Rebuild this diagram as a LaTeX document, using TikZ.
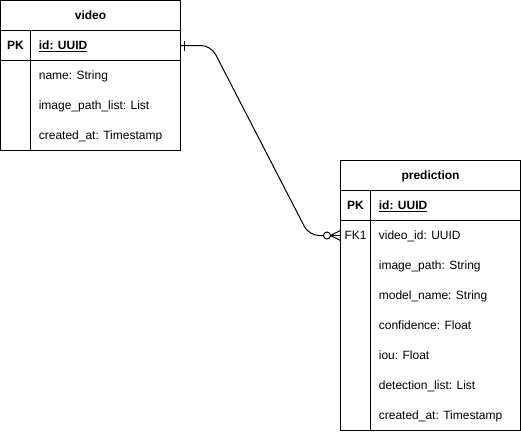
\documentclass[tikz,border=0pt]{standalone}
\usepackage{fontspec}
\setmainfont{Liberation Sans}

\begin{document}
\begin{tikzpicture}[x=1pt,y=-1pt,line width=1pt,
    title/.style={font=\fontsize{12}{14}\selectfont\bfseries,anchor=base},
    key/.style={font=\fontsize{12}{14}\selectfont\bfseries,anchor=base},
    field/.style={font=\fontsize{12}{14}\selectfont,anchor=base west}]
  \useasboundingbox (0,0) rectangle (521,431);
  % video table
  \draw (0.5,0.5) rectangle (180.5,150.5);
  \draw (0.5,30.5)--(180.5,30.5);
  \draw (0.5,60.5)--(180.5,60.5);
  \draw (30.5,30.5)--(30.5,150.5);
  \node[title] (videoT) at (90.5,19.5) {video};
  \node[key] (videoPK) at (15.5,49.5) {PK};
  \node[field,font=\fontsize{12}{14}\selectfont\bfseries] (videoId) at (35,49.5) {\underline{id: UUID}};
  \node[field] (videoName) at (35,79.5) {name: String};
  \node[field] (videoPaths) at (35,109.5) {image\_path\_list: List};
  \node[field] (videoCreated) at (35,139.5) {created\_at: Timestamp};
  % prediction table
  \draw (340.5,160.5) rectangle (520.5,430.5);
  \draw (340.5,190.5)--(520.5,190.5);
  \draw (340.5,220.5)--(520.5,220.5);
  \draw (370.5,190.5)--(370.5,430.5);
  \node[title] (predT) at (430.5,179.5) {prediction};
  \node[key] (predPK) at (355.5,209.5) {PK};
  \node[field,font=\fontsize{12}{14}\selectfont\bfseries] (predId) at (375,209.5) {\underline{id: UUID}};
  \node[font=\fontsize{12}{14}\selectfont,anchor=base] (predFK) at (355.5,239.5) {FK1};
  \node[field] (predVideo) at (375,239.5) {video\_id: UUID};
  \node[field] (predImage) at (375,269.5) {image\_path: String};
  \node[field] (predModel) at (375,299.5) {model\_name: String};
  \node[field] (predConf) at (375,329.5) {confidence: Float};
  \node[field] (predIou) at (375,359.5) {iou: Float};
  \node[field] (predDet) at (375,389.5) {detection\_list: List};
  \node[field] (predCreated) at (375,419.5) {created\_at: Timestamp};
  % relation
  \coordinate (one) at (180.5,45.5);
  \coordinate (many) at (340.5,235.5);
  \draw[rounded corners=10pt] (one)--(211,45.5)--(309,235.5)--(323.5,235.5);
  \draw (184.5,40.5)--(184.5,50.5);
  \draw (327,235.5) circle(3.5);
  \draw (330.5,235.5)--(many);
  \draw (330.5,235.5)--(340.5,230.5);
  \draw (330.5,235.5)--(340.5,240.5);
\end{tikzpicture}
\end{document}
